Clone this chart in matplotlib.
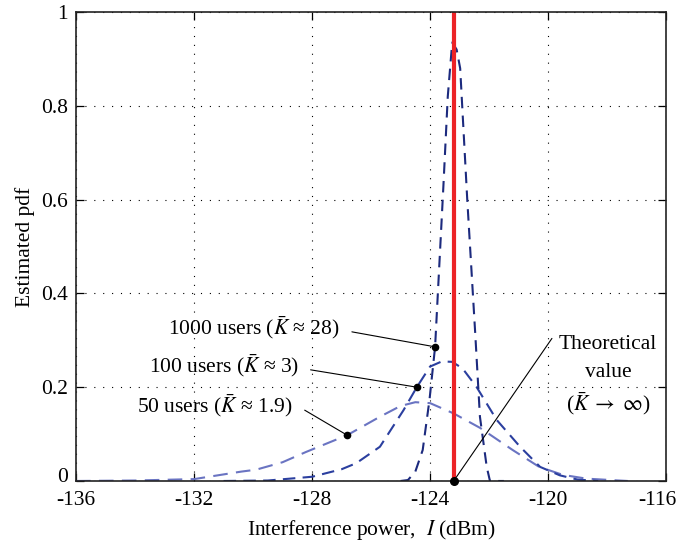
import matplotlib
matplotlib.use("Agg")
import matplotlib.pyplot as plt
from matplotlib.transforms import ScaledTranslation

plt.rcParams["font.family"] = ["Liberation Serif", "DejaVu Serif"]
plt.rcParams["mathtext.fontset"] = "stix"

# estimated pdf curves
x50 = [-136, -134, -132, -130.4, -129.9, -129, -128.2, -127.5, -126.8, -125.7,
       -125.0, -124.5, -124.0, -123.2, -122.3, -121.2, -120.3, -119.5, -118.7,
       -117.6, -117.3]
y50 = [0, 0.001, 0.004, 0.02, 0.024, 0.04, 0.062, 0.08, 0.098, 0.137,
       0.16, 0.168, 0.166, 0.144, 0.113, 0.066, 0.03, 0.013, 0.005,
       0.001, 0]

x100 = [-131, -129.5, -128, -127, -126.5, -125.7, -124.9, -124.45, -124.0,
        -123.6, -123.25, -122.9, -122.42, -121.74, -120.95, -120.27, -119.6,
        -119.0, -118.3]
y100 = [0, 0.001, 0.009, 0.025, 0.038, 0.073, 0.151, 0.20, 0.244,
        0.255, 0.254, 0.24, 0.20, 0.13, 0.073, 0.03, 0.012,
        0.003, 0]

x1000 = [-125.0, -124.75, -124.5, -124.25, -124.02, -123.83, -123.55, -123.4,
         -123.25, -123.1, -122.98, -122.74, -122.47, -122.31, -122.08, -121.97,
         -121.5]
y1000 = [0, 0.002, 0.02, 0.066, 0.173, 0.286, 0.627, 0.82,
         0.935, 0.92, 0.88, 0.60, 0.315, 0.137, 0.03, 0.0,
         0]

theory_x = -123.2
xticks = [-136, -132, -128, -124, -120, -116]
yticks = [0, 0.2, 0.4, 0.6, 0.8, 1]

fig = plt.figure(figsize=(6.79, 5.48), dpi=100)
ax = fig.add_axes([0.112, 0.1223, 0.869, 0.8558])

ax.plot(x50, y50, ls=(0, (7, 4)), color="#6a74c2", lw=1.5)
ax.plot(x100, y100, ls=(0, (6, 3.5)), color="#2b3f9f", lw=1.5)
ax.plot(x1000, y1000, ls=(0, (5.5, 3.5)), color="#1c2a7e", lw=1.5)
ax.plot([theory_x, theory_x], [0, 1], color="#ec2327", lw=3)

fs = 15.5
ann = [
    ("1000 users ($\\bar{K}$ ≈ 28)", (-123.83, 0.286), (-126.65, 0.318)),
    ("100 users ($\\bar{K}$ ≈ 3)", (-124.45, 0.20), (-128.05, 0.237)),
    ("50 users ($\\bar{K}$ ≈ 1.9)", (-126.82, 0.098), (-128.25, 0.151)),
]
for txt, pt, start in ann:
    ax.annotate("", xy=pt, xytext=start,
                arrowprops=dict(arrowstyle="-", color="black", lw=0.8,
                                shrinkA=0, shrinkB=0))
    ax.plot(*pt, "o", color="black", ms=4.5)
    ax.text(start[0] - 0.4, start[1] + 0.01, txt, ha="right", va="center",
            fontsize=fs)

ax.annotate("", xy=(theory_x, 0), xytext=(-119.87, 0.304),
            arrowprops=dict(arrowstyle="-", color="black", lw=0.8,
                            shrinkA=0, shrinkB=0))
ax.plot(theory_x, 0, "o", color="black", ms=5.5, clip_on=False, zorder=5)
ax.text(-117.97, 0.292, "Theoretical", ha="center", va="center", fontsize=fs)
ax.text(-117.97, 0.232, "value", ha="center", va="center", fontsize=fs)
ax.text(-117.97, 0.166, "($\\bar{K}\\;\\rightarrow\\;\\infty$)", ha="center",
        va="center", fontsize=fs)

ax.set_xlim(-136, -116)
ax.set_ylim(0, 1)
ax.set_xticks(xticks)
ax.set_xticklabels([str(t) for t in xticks])
ax.set_yticks(yticks)
ax.set_yticklabels(["0", "0.2", "0.4", "0.6", "0.8", "1"])
ax.tick_params(direction="in", length=6, width=0.9, labelsize=fs,
               top=True, right=True)
ax.tick_params(axis="x", pad=7)
ax.tick_params(axis="y", pad=6)
# last x label sits a little left so it stays inside the figure,
# the "0" on y sits a little up, as in the original
xl = ax.get_xticklabels()
xl[-1].set_transform(xl[-1].get_transform()
                     + ScaledTranslation(-9 / 100, 0, fig.dpi_scale_trans))
yl = ax.get_yticklabels()
yl[0].set_transform(yl[0].get_transform()
                    + ScaledTranslation(0, 6 / 100, fig.dpi_scale_trans))
ax.grid(True, ls=(0, (1, 7)), color="black", lw=0.8)
for s in ax.spines.values():
    s.set_linewidth(1.2)
    s.set_color("#222222")

ax.set_xlabel("Interference power,  $I$ (dBm)", fontsize=fs, labelpad=6)
ax.set_ylabel("Estimated pdf", fontsize=fs, labelpad=4)

fig.savefig("out.png", dpi=100)
